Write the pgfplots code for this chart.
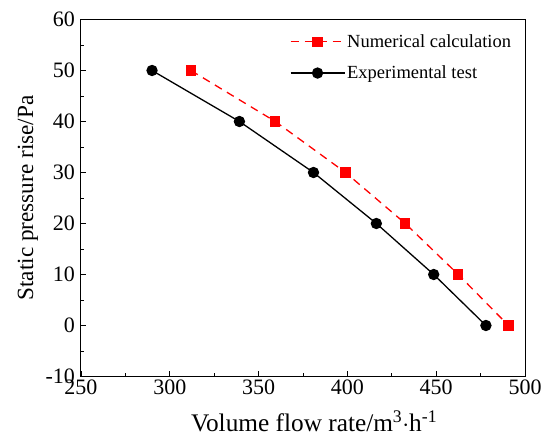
\documentclass[border=0pt]{standalone}
\usepackage{fontspec}
\setmainfont{Liberation Serif}
\usepackage{pgfplots}
\pgfplotsset{compat=1.18}
\begin{document}
\begin{tikzpicture}
\begin{axis}[
  name=ax,
  scale only axis,
  width=444pt, height=357pt,
  xmin=250, xmax=500, ymin=-10, ymax=60,
  xtick={250,300,...,500}, ytick={-10,0,...,60},
  minor x tick num=1, minor y tick num=1,
  tick align=inside,
  xtick pos=left, ytick pos=left,
  major tick length=5pt, minor tick length=3pt,
  axis line style={line width=1pt},
  tick style={line width=0.9pt, black},
  /pgf/number format/assume math mode=true,
  /pgf/number format/set thousands separator={},
  tick label style={font=\fontsize{22}{24}\selectfont},
  xticklabel style={yshift=0.5pt},
  yticklabel style={xshift=-2.5pt},
  xlabel={Volume flow rate/m\textsuperscript{3}$\cdot$h\textsuperscript{-1}},
  ylabel={Static pressure rise/Pa},
  xlabel style={font=\fontsize{25.3}{28}\selectfont, at={(axis description cs:0.525,-0.154)}, anchor=base, inner sep=0pt},
  ylabel style={font=\fontsize{23.2}{26}\selectfont, at={(axis description cs:-0.108,0.5)}, anchor=base, inner sep=0pt},
  legend style={draw=none, fill=none, at={(axis description cs:0.470,0.964)}, anchor=north west,
    font=\fontsize{18.5}{22}\selectfont, row sep=13pt, inner sep=0pt},
  legend cell align=left,
  legend image code/.code={%
    \draw[#1, mark repeat=2, mark phase=2] plot coordinates {(0pt,0pt) (27pt,0pt) (54pt,0pt)};},
]
\addplot[red, line width=1.3pt, dash pattern=on 8pt off 6pt, mark=square*, mark size=4.5pt, mark options={solid}]
  coordinates {(311.9,50) (359.4,40) (398.9,30) (432.6,20) (462.4,10) (490.7,0)};
\addlegendentry{Numerical calculation}
\addplot[black, line width=1.3pt, mark=*, mark size=5pt]
  coordinates {(290.0,50) (339.2,40) (380.9,30) (416.3,20) (448.6,10) (478.0,0)};
\addlegendentry{Experimental test}
\end{axis}
\pgfresetboundingbox
\path ([xshift=-81pt,yshift=-66pt]ax.south west) rectangle ([xshift=27pt,yshift=19.5pt]ax.north east);
\end{tikzpicture}
\end{document}
